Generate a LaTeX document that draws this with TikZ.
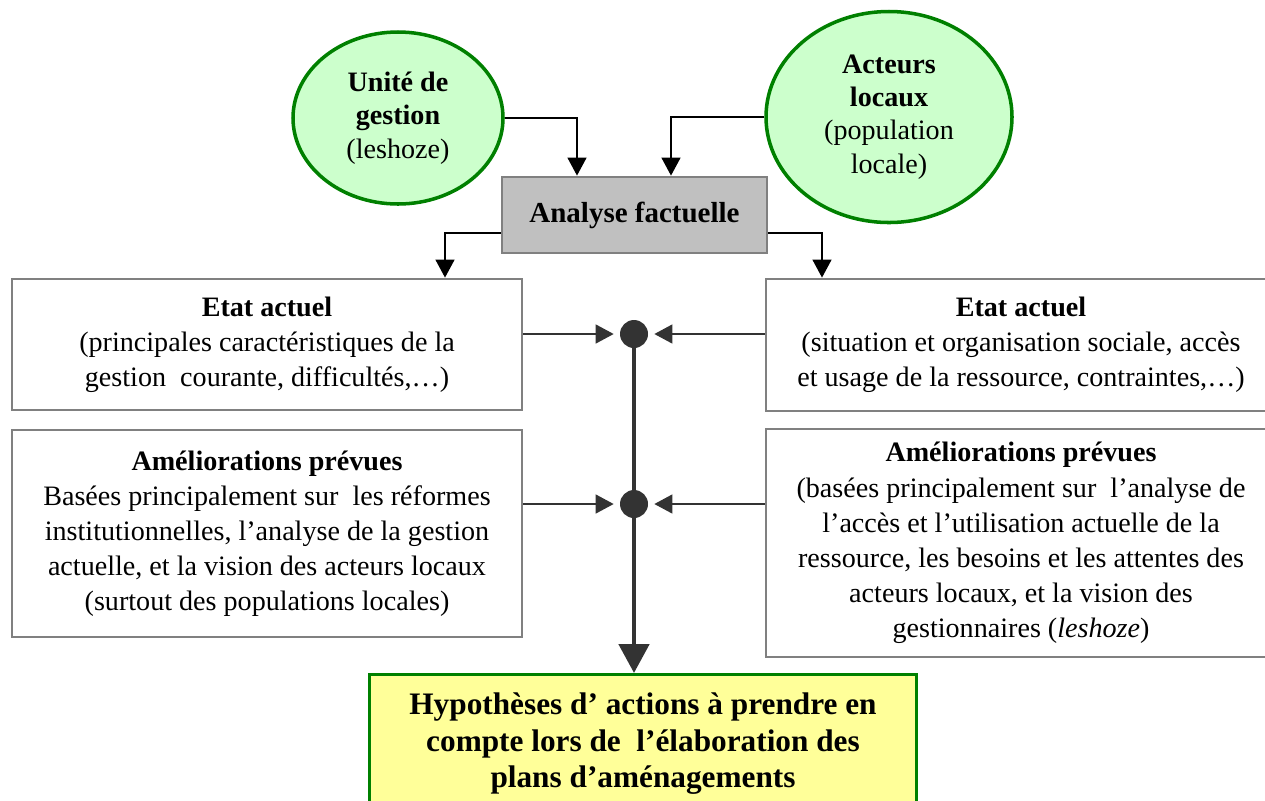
\documentclass[tikz,border=0pt]{standalone}
\usepackage{fontspec}
\setmainfont{Liberation Serif}
\usetikzlibrary{arrows.meta,shapes.geometric}
\definecolor{leaf}{HTML}{CCFFCC}
\definecolor{leafline}{HTML}{008000}
\definecolor{boxline}{HTML}{808080}
\definecolor{ink}{HTML}{333333}
\definecolor{pale}{HTML}{FFFF99}
\definecolor{shade}{HTML}{C0C0C0}
\begin{document}
\begin{tikzpicture}[x=0.2mm,y=-0.2mm,>={Triangle[length=3.6mm,width=3.8mm]},
 ell/.style={ellipse,draw=leafline,fill=leaf,line width=2pt,inner sep=0pt,align=center,font=\fontsize{16}{19}\selectfont},
 box/.style={draw=boxline,line width=1.6pt,align=center,font=\fontsize{16}{20}\selectfont},
 dot/.style={circle,fill=ink,inner sep=0pt,minimum size=5.6mm},
 feed/.style={->,draw=ink,fill=ink,line width=0.8pt,shorten >=1.2mm},
 hyp/.style={draw=leafline,fill=pale,line width=1.8pt,align=center,font=\fontsize{17.8}{21}\selectfont\bfseries}]
\useasboundingbox (0,0) rectangle (1265,800);
% sources
\node[ell,minimum width=4.2cm,minimum height=3.44cm] (unite) at (398,118) {\textbf{Unité de}\\\textbf{gestion}\\(leshoze)};
\node[ell,minimum width=4.92cm,minimum height=4.22cm] (acteurs) at (889,117) {\textbf{Acteurs}\\\textbf{locaux}\\(population\\locale)};
\node[box,fill=shade,minimum width=5.3cm,minimum height=1.52cm,font=\fontsize{16.5}{18}\selectfont\bfseries] (ana) at (634.5,215) {Analyse factuelle};
% left column
\node[box,minimum width=10.2cm,minimum height=2.62cm] (etatL) at (267,344.5) {\textbf{Etat actuel}\\(principales caractéristiques de la\\gestion\ \ courante, difficultés,…)};
\node[box,minimum width=10.2cm,minimum height=4.14cm] (amelL) at (267,533.5) {\textbf{Améliorations prévues}\\Basées principalement sur\ \ les réformes\\institutionnelles, l'analyse de la gestion\\actuelle, et la vision des acteurs locaux\\(surtout des populations locales)};
% right column
\node[box,minimum width=10.2cm,minimum height=2.64cm] (etatR) at (1021,345) {\textbf{Etat actuel}\\(situation et organisation sociale, accès\\et usage de la ressource, contraintes,…)};
\node[box,minimum width=10.2cm,minimum height=4.56cm] (amelR) at (1021,543) {\textbf{Améliorations prévues}\\(basées principalement sur\ \ l'analyse de\\l'accès et l'utilisation actuelle de la\\ressource, les besoins et les attentes des\\acteurs locaux, et la vision des\\gestionnaires (\textit{leshoze})};
% junctions and result
\node[dot] (d1) at (634,334) {};
\node[dot] (d2) at (634,504) {};
\node[hyp,minimum width=10.94cm,minimum height=2.76cm,anchor=north] (hyp) at (643,673) {Hypothèses d' actions à prendre en\\compte lors de\ \ l'élaboration des\\plans d'aménagements};
\draw[->,line width=0.8pt] (unite.east) -| ([xshift=-1.15cm]ana.north);
\draw[->,line width=0.8pt] (acteurs.west) -| ([xshift=0.73cm]ana.north);
\draw[->,line width=0.8pt] ([yshift=-0.36cm]ana.west) -| ([xshift=3.56cm]etatL.north);
\draw[->,line width=0.8pt] ([yshift=-0.36cm]ana.east) -| ([xshift=-3.98cm]etatR.north);
\draw[feed] (etatL.east |- d1) -- (d1);
\draw[feed] (amelL.east |- d2) -- (d2);
\draw[feed] (etatR.west |- d1) -- (d1);
\draw[feed] (amelR.west |- d2) -- (d2);
\draw[->,draw=ink,fill=ink,line width=2.8pt,>={Triangle[length=5.8mm,width=6mm]}] (d1) -- (d1 |- hyp.north);
\end{tikzpicture}
\end{document}
